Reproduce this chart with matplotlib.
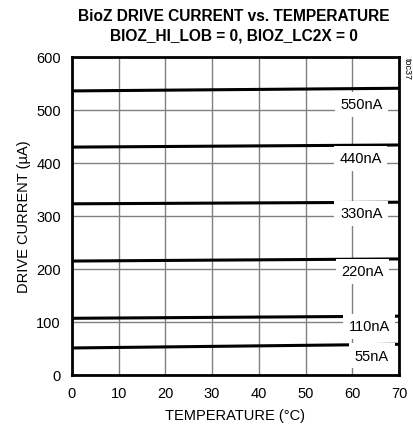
import matplotlib.pyplot as plt
import numpy as np

plt.rcParams['font.family'] = ['Liberation Sans', 'DejaVu Sans']

temps = [0, 70]
labels = ['550nA', '440nA', '330nA', '220nA', '110nA', '55nA']
currents = {
    '550nA': [536, 541],
    '440nA': [430, 434],
    '330nA': [323, 326],
    '220nA': [215, 219],
    '110nA': [107, 111],
    '55nA': [51, 58],
}
label_x = [62, 61.8, 61.9, 62.2, 63.6, 64.2]
label_y = [511, 409, 305, 196, 92, 36]

fig = plt.figure(figsize=(4.14, 4.31), dpi=100)
ax = fig.add_axes([72 / 414, 1 - 376 / 431, 327 / 414, 318 / 431])

for name in labels:
    ax.plot(temps, currents[name], color='black', lw=2.2, zorder=3)

for txt, x, y in zip(labels, label_x, label_y):
    ax.text(x, y, txt, ha='center', va='center', fontsize=10.5,
            bbox=dict(facecolor='white', edgecolor='none', pad=4), zorder=4)

ax.set_xlim(0, 70)
ax.set_ylim(0, 600)
ax.set_xticks(np.arange(0, 71, 10))
ax.set_yticks(np.arange(0, 601, 100))
ax.grid(True, color='#808080', lw=1)
ax.set_axisbelow(True)
for s in ax.spines.values():
    s.set_linewidth(2)
ax.tick_params(length=0, labelsize=10.5, pad=8)
ax.set_xlabel('TEMPERATURE (°C)', fontsize=10.5, labelpad=6)
ax.set_ylabel('DRIVE CURRENT (µA)', fontsize=10.5, labelpad=4)

fig.text(0.565, 0.978, 'BioZ DRIVE CURRENT vs. TEMPERATURE\nBIOZ_HI_LOB = 0, BIOZ_LC2X = 0',
         ha='center', va='top', fontsize=11.2, fontweight='bold', linespacing=1.3)
fig.text(0.985, 0.865, 'toc37', rotation=-90, ha='center', va='top', fontsize=6.5)

fig.savefig('out.png', dpi=100)
